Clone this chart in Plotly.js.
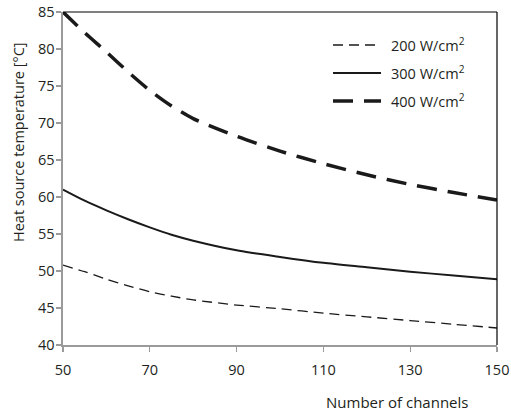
<!DOCTYPE html>
<html>
<head>
<meta charset="utf-8">
<script src="https://cdn.plot.ly/plotly-3.0.1.min.js"></script>
<style>html,body{margin:0;padding:0;background:#fff;}#chart{width:511px;height:411px;}</style>
</head>
<body>
<div id="chart"></div>
<script>
const channels = [50, 55, 60, 65, 70, 75, 80, 90, 100, 110, 120, 130, 140, 150];
const temp200 = [50.8, 49.9, 48.9, 48.0, 47.2, 46.6, 46.1, 45.4, 44.9, 44.3, 43.8, 43.3, 42.8, 42.3];
const temp300 = [61.0, 59.5, 58.2, 57.0, 55.9, 54.9, 54.1, 52.8, 51.9, 51.1, 50.5, 49.9, 49.4, 48.9];
const temp400 = [85.0, 82.2, 79.6, 76.9, 74.4, 72.3, 70.6, 68.2, 66.2, 64.5, 63.0, 61.7, 60.6, 59.6];
const seriesNames = ["200 W/cm<sup>2</sup>", "300 W/cm<sup>2</sup>", "400 W/cm<sup>2</sup>"];
const xTicks = [50, 70, 90, 110, 130, 150];
const yTicks = [40, 45, 50, 55, 60, 65, 70, 75, 80, 85];
const xTitle = "Number of channels";
const yTitle = "Heat source temperature [°C]";

const font = "Open Sans, Noto Sans, sans-serif";
const ink = "#231f20";
const styles = [
  {color: "#1a1a1a", width: 1.3, dash: "10px,6px"},
  {color: "#1a1a1a", width: 2, dash: "solid"},
  {color: "#1a1a1a", width: 3.5, dash: "20px,11px"}
];
const series = [temp200, temp300, temp400];
const traces = series.map((ys, i) => ({
  x: channels, y: ys, name: seriesNames[i], mode: "lines", showlegend: false,
  line: Object.assign({shape: "spline", smoothing: 0.7}, styles[i])
}));

// manual legend (longer line samples like the reference)
const plotL = 63, plotW = 434, plotB = 345, plotH = 333;
const px2x = p => (p - plotL) / plotW;
const px2y = p => (plotB - p) / plotH;
const legendRows = [45, 73, 101];
const shapes = [
  {type: "line", xref: "paper", yref: "paper", x0: 0, x1: 1, y0: 1, y1: 1, line: {color: "#000", width: 1.2}},
  {type: "line", xref: "paper", yref: "paper", x0: 1, x1: 1, y0: 0, y1: 1, line: {color: "#000", width: 1.2}}
];
const annotations = [
  {text: xTitle, xref: "paper", yref: "paper", x: px2x(397), y: px2y(402), showarrow: false,
   xanchor: "center", yanchor: "middle", font: {size: 15, family: font, color: ink}},
  {text: yTitle, xref: "paper", yref: "paper", x: px2x(18), y: px2y(142), showarrow: false, textangle: -90,
   xanchor: "center", yanchor: "middle", font: {size: 14.5, family: font, color: ink}}
];
legendRows.forEach((ry, i) => {
  shapes.push({type: "line", xref: "paper", yref: "paper", x0: px2x(333), x1: px2x(381), y0: px2y(ry), y1: px2y(ry),
               line: {color: styles[i].color, width: styles[i].width, dash: styles[i].dash}});
  annotations.push({text: seriesNames[i], xref: "paper", yref: "paper", x: px2x(389), y: px2y(ry - 1), showarrow: false,
                    xanchor: "left", yanchor: "middle", font: {size: 14.5, family: font, color: ink}});
});

const layout = {
  width: 511, height: 411,
  margin: {l: 63, r: 14, t: 12, b: 66},
  paper_bgcolor: "#fff", plot_bgcolor: "#fff",
  font: {family: font, color: ink, size: 14},
  showlegend: false,
  xaxis: {range: [50, 150], tickvals: xTicks, ticks: "outside", ticklen: 5, tickcolor: "#9a9a9a", tickwidth: 1.3,
          showline: true, linecolor: "#9a9a9a", linewidth: 1.6, showgrid: false, zeroline: false,
          ticklabelstandoff: 6,
          tickfont: {size: 14.5, family: font, color: ink}},
  yaxis: {range: [40, 85], tickvals: yTicks, ticks: "outside", ticklen: 5, tickcolor: "#9a9a9a", tickwidth: 1.3,
          showline: true, linecolor: "#9a9a9a", linewidth: 1.6, showgrid: false, zeroline: false,
          ticklabelstandoff: -1,
          tickfont: {size: 14.5, family: font, color: ink}},
  shapes: shapes,
  annotations: annotations
};
Plotly.newPlot("chart", traces, layout, {staticPlot: true, displayModeBar: false});
</script>
</body>
</html>
